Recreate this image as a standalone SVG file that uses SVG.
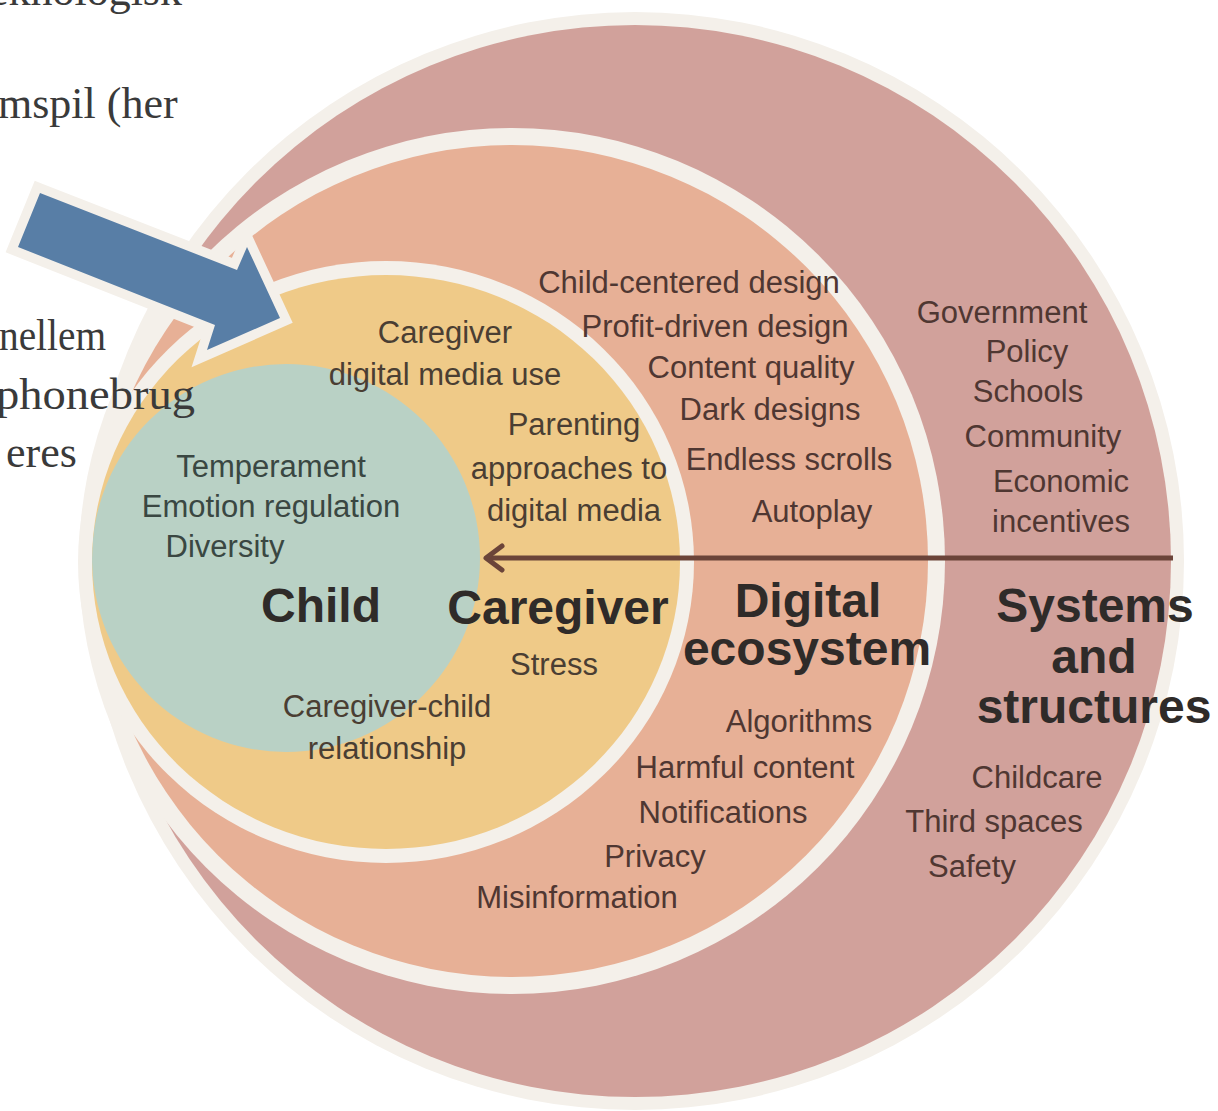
<svg xmlns="http://www.w3.org/2000/svg" width="1218" height="1111" viewBox="0 0 1218 1111">
<defs>
<style>
.lbl{font-family:"Liberation Sans",Arial,sans-serif;font-size:31px;text-anchor:middle}
.ttl{font-family:"Liberation Sans",Arial,sans-serif;font-size:48px;font-weight:bold;text-anchor:middle;fill:#2f2b29}
.brn{fill:#4f3732}
.cg{fill:#4a3e33}
.ch{fill:#3a4742}
.serif{font-family:"Liberation Serif","Times New Roman",serif;font-size:44px;fill:#3a3a3a}
.gap{fill:#f4f0ea}
</style>
<clipPath id="caregiverClip"><ellipse cx="386" cy="562" rx="294" ry="287"/></clipPath>
<marker id="chevron" markerUnits="userSpaceOnUse" viewBox="0 0 22 30" refX="19" refY="15" markerWidth="22" markerHeight="30" orient="auto" overflow="visible">
<path d="M3,3 L19,15 L3,27" fill="none" stroke="#6b4439" stroke-width="5" stroke-linecap="round" stroke-linejoin="round"/>
</marker>
<polygon id="pointer" points="40,193 237,270 247,247 280,318 207,350 215,325 18,247"/>
</defs>
<rect width="1218" height="1111" fill="#ffffff"/>

<!-- outermost ring: systems and structures -->
<g id="node-systems">
<circle class="gap" cx="635" cy="561" r="549"/>
<circle cx="635" cy="561" r="536" fill="#d1a19b"/>
</g>

<!-- second ring: digital ecosystem -->
<g id="node-digital">
<circle class="gap" cx="512" cy="561" r="433"/>
<circle cx="512" cy="561" r="416" fill="#e7b096"/>
</g>

<!-- third ring: caregiver -->
<g id="node-caregiver">
<ellipse class="gap" cx="386" cy="562" rx="308" ry="301"/>
<ellipse cx="386" cy="562" rx="294" ry="287" fill="#efca88"/>
</g>

<!-- core: child -->
<g id="node-child">
<circle cx="286" cy="558" r="194" fill="#b9d1c5" clip-path="url(#caregiverClip)"/>
</g>

<!-- influence arrow running from the systems ring to the child -->
<g id="connectors">
<path d="M1173,558 H486" fill="none" stroke="#6b4439" stroke-width="5" marker-end="url(#chevron)"/>
</g>

<!-- labels: digital ecosystem -->
<g id="labels-digital" class="lbl brn">
<text x="689" y="293">Child-centered design</text>
<text x="715" y="337">Profit-driven design</text>
<text x="751" y="378">Content quality</text>
<text x="770" y="420">Dark designs</text>
<text x="789" y="470">Endless scrolls</text>
<text x="812" y="522">Autoplay</text>
<text x="799" y="732">Algorithms</text>
<text x="745" y="778">Harmful content</text>
<text x="723" y="823">Notifications</text>
<text x="655" y="867">Privacy</text>
<text x="577" y="908">Misinformation</text>
<text class="ttl" x="808" y="617">Digital</text>
<text class="ttl" x="807" y="665">ecosystem</text>
</g>

<!-- labels: systems and structures -->
<g id="labels-systems" class="lbl brn">
<text x="1002" y="323">Government</text>
<text x="1027" y="362">Policy</text>
<text x="1028" y="402">Schools</text>
<text x="1043" y="447">Community</text>
<text x="1061" y="492">Economic</text>
<text x="1061" y="532">incentives</text>
<text x="1037" y="788">Childcare</text>
<text x="994" y="832">Third spaces</text>
<text x="972" y="877">Safety</text>
<text class="ttl" x="1095" y="622">Systems</text>
<text class="ttl" x="1094" y="673">and</text>
<text class="ttl" x="1094" y="723">structures</text>
</g>

<!-- labels: caregiver -->
<g id="labels-caregiver" class="lbl cg">
<text x="445" y="343">Caregiver</text>
<text x="445" y="385">digital media use</text>
<text x="574" y="435">Parenting</text>
<text x="569" y="479">approaches to</text>
<text x="574" y="521">digital media</text>
<text x="554" y="675">Stress</text>
<text x="387" y="717">Caregiver-child</text>
<text x="387" y="759">relationship</text>
<text class="ttl" x="558" y="624">Caregiver</text>
</g>

<!-- labels: child -->
<g id="labels-child" class="lbl ch">
<text x="271" y="477">Temperament</text>
<text x="271" y="517">Emotion regulation</text>
<text x="225" y="557">Diversity</text>
<text class="ttl" x="321" y="622">Child</text>
</g>

<!-- slide body text behind the pointer -->
<g id="slide-text" class="serif">
<text x="182" y="5" text-anchor="end">eknologisk</text>
<text x="-2" y="118">mspil (her</text>
<text x="-1" y="350" textLength="107" lengthAdjust="spacingAndGlyphs">nellem</text>
<text x="-4" y="409" textLength="199" lengthAdjust="spacingAndGlyphs">phonebrug</text>
<text x="6" y="467">eres</text>
</g>

<!-- blue block pointer with light outline -->
<g id="pointer-arrow">
<use href="#pointer" fill="#f4f0ea" stroke="#f4f0ea" stroke-width="19" stroke-linejoin="miter" stroke-miterlimit="6"/>
<use href="#pointer" fill="#587ea6"/>
</g>
</svg>
